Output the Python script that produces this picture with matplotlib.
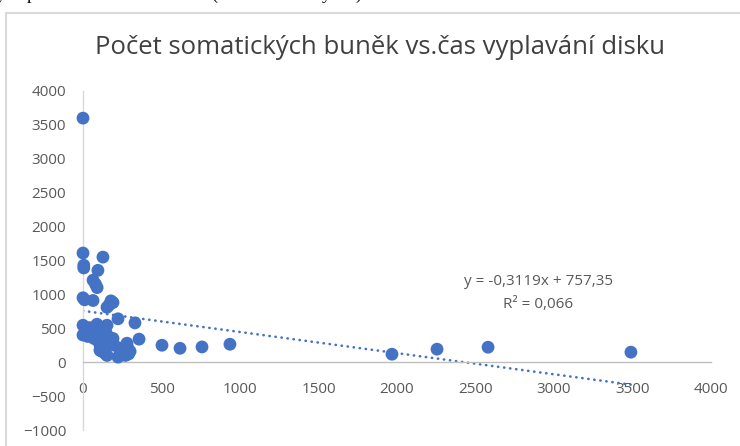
import matplotlib
matplotlib.use("Agg")
import matplotlib.pyplot as plt
from matplotlib.patches import Rectangle

# cas vyplavani disku (s) vs. pocet somatickych bunek (tis./ml)
cas = [0, 0, 5, 5, 127, 95, 64, 80, 90, 0, 10, 64, 178, 191, 165, 153,
       223, 331, 0, 40, 89, 153, 0, 20, 30, 50, 60, 70, 100, 110, 120,
       130, 140, 150, 160, 170, 191, 100, 110, 120, 140, 153, 108, 200,
       357, 280, 236, 255, 223, 287, 300, 270, 240, 260, 290,
       503, 618, 758, 936, 1968, 2255, 2580, 3490]
bunky = [3600, 1610, 1430, 1390, 1550, 1355, 1210, 1150, 1100, 950, 920,
         910, 905, 880, 840, 810, 640, 580, 545, 510, 560, 545, 400, 450,
         380, 470, 420, 350, 500, 440, 380, 300, 520, 420, 350, 280, 350,
         300, 230, 160, 130, 100, 175, 250, 340, 280, 205, 130, 75, 205,
         160, 100, 170, 220, 120, 250, 205, 225, 265, 118, 192, 221, 148]

slope = -0.3119
intercept = 757.35
rovnice = "y = -0,3119x + 757,35"
r2_text = "R² = 0,066"

x_ticks = [0, 500, 1000, 1500, 2000, 2500, 3000, 3500, 4000]
y_ticks = [-1000, -500, 0, 500, 1000, 1500, 2000, 2500, 3000, 3500, 4000]

blue = "#4472C4"
grey_txt = "#595959"
grey_line = "#D9D9D9"

fig = plt.figure(figsize=(7.4, 4.46), dpi=100)
ax = fig.add_axes([83 / 740, 16 / 446, 628 / 740, 339 / 446])

# chart area border (cut off on the right and bottom)
fig.patches.append(Rectangle((6 / 740, -0.1), 1.1, 1 - 13 / 446 + 0.1,
                             transform=fig.transFigure, fill=False,
                             edgecolor=grey_line, linewidth=1.5))

ax.scatter(cas, bunky, s=85, color=blue, edgecolors="none", zorder=3, clip_on=False)

x_end = max(cas)
ax.plot([0, x_end], [intercept, slope * x_end + intercept], color=blue,
        linewidth=1.9, linestyle=(0, (0.1, 2.2)), dash_capstyle="round", zorder=2)

ax.set_xlim(0, 4000)
ax.set_ylim(-1000, 4000)
ax.set_xticks(x_ticks)
ax.set_yticks(y_ticks)

for s in ["top", "right"]:
    ax.spines[s].set_visible(False)
ax.spines["bottom"].set_position(("data", 0))
ax.spines["bottom"].set_color("#BFBFBF")
ax.spines["left"].set_color(grey_line)
ax.spines["bottom"].set_linewidth(1.0)
ax.spines["left"].set_linewidth(1.0)
ax.tick_params(length=0, labelsize=11, labelcolor=grey_txt)
ax.tick_params(axis="x", pad=14)
ax.tick_params(axis="y", pad=12)
for lab in ax.get_xticklabels() + ax.get_yticklabels():
    lab.set_fontfamily("Open Sans")

ax.text(2900, 1190, rovnice, ha="center", va="center", fontsize=11,
        color=grey_txt, family="Open Sans")
ax.text(2900, 845, r2_text, ha="center", va="center", fontsize=11,
        color=grey_txt, family="Open Sans")

fig.text(380 / 740, 1 - 47 / 446, "Počet somatických buněk vs.čas vyplavání disku",
         ha="center", va="center", fontsize=18.5, color="#404040", family="Open Sans")

# cut-off caption line of the document above the chart (only descenders show)
for px, ch in [(-3, "y"), (27, "p"), (211, "("), (322, "y"), (355, ")")]:
    fig.text(px / 740, 1 + 1 / 446, ch, ha="left", va="baseline",
             fontsize=13, color="black", family="Liberation Serif")

fig.savefig("out.png", dpi=100)
